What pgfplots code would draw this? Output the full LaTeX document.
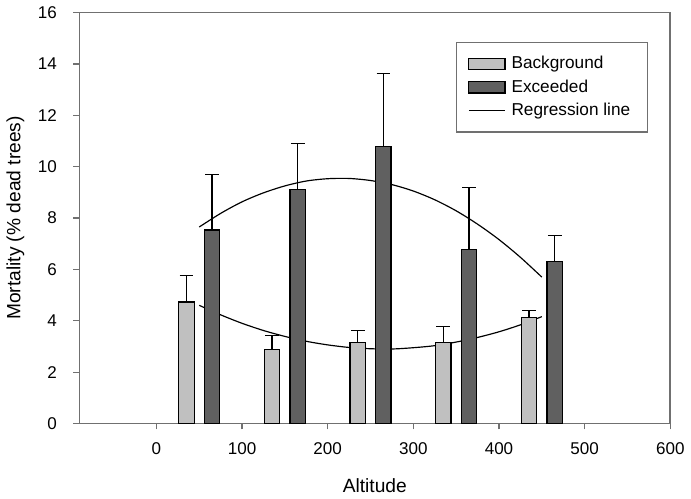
\documentclass[border=0pt]{standalone}
\usepackage{fontspec}
\setmainfont{Liberation Sans}
\usepackage{pgfplots}
\pgfplotsset{compat=1.18}

\definecolor{bgbar}{HTML}{C0C0C0}
\definecolor{exbar}{HTML}{606060}
\definecolor{axgray}{HTML}{707070}

\begin{document}
\begin{tikzpicture}
\begin{axis}[
    scale only axis,
    width=302pt, height=210pt,
    xmin=-90, xmax=600,
    ymin=0, ymax=16,
    xtick={0,100,...,600},
    ytick={0,2,...,16},
    tick align=outside,
    xtick pos=left, ytick pos=left,
    major tick length=3pt,
    tick style={axgray, line width=0.6pt},
    axis line style={axgray, line width=0.8pt},
    ticklabel style={font=\fontsize{8.7}{10}\selectfont},
    xticklabel style={yshift=-3.5pt},
    yticklabel style={xshift=-5pt},
    /pgf/number format/assume math mode=true,
    xlabel={Altitude},
    ylabel={Mortality (\% dead trees)},
    label style={font=\fontsize{9.8}{12}\selectfont},
    xlabel style={yshift=-5pt},
    legend style={at={(0.963,0.928)}, anchor=north east,
        font=\fontsize{8.8}{10.25}\selectfont, draw=axgray, line width=0.6pt,
        inner xsep=6pt, inner ysep=5pt, row sep=0pt,
        nodes={inner xsep=3pt}},
    legend cell align=left,
]
% regression lines (behind the bars)
\addplot[black, line width=0.6pt, smooth, forget plot] coordinates {
    (50,7.65) (75,8.18) (100,8.63) (125,8.98) (150,9.25) (175,9.44)
    (200,9.53) (225,9.54) (250,9.46) (275,9.30) (300,9.05) (325,8.71)
    (350,8.28) (375,7.76) (400,7.16) (425,6.47) (450,5.70)
};
\addplot[black, line width=0.6pt, smooth, forget plot] coordinates {
    (50,4.60) (75,4.23) (100,3.90) (125,3.62) (150,3.39) (175,3.20)
    (200,3.06) (225,2.96) (250,2.91) (275,2.90) (300,2.95) (325,3.03)
    (350,3.17) (375,3.35) (400,3.57) (425,3.84) (450,4.16)
};
% Background
\addplot[ybar, bar width=18, bar shift=0pt, fill=bgbar, draw=black, line width=0.6pt, forget plot,
    error bars/.cd, y dir=plus, y explicit,
    error bar style={black, line width=0.6pt},
    error mark options={rotate=90, mark size=3.5pt, black, line width=0.6pt}]
  coordinates {
    (35,4.73) +- (0,1.03)
    (135,2.88) +- (0,0.54)
    (235,3.16) +- (0,0.45)
    (335,3.16) +- (0,0.63)
    (435,4.12) +- (0,0.28)
};
% Exceeded
\addplot[ybar, bar width=18, bar shift=0pt, fill=exbar, draw=black, line width=0.6pt, forget plot,
    error bars/.cd, y dir=plus, y explicit,
    error bar style={black, line width=0.6pt},
    error mark options={rotate=90, mark size=3.5pt, black, line width=0.6pt}]
  coordinates {
    (65,7.53) +- (0,2.15)
    (165,9.10) +- (0,1.80)
    (265,10.77) +- (0,2.86)
    (365,6.76) +- (0,2.44)
    (465,6.32) +- (0,1.00)
};
\addlegendimage{legend image code/.code={\draw[fill=bgbar, draw=black, line width=0.6pt] (0cm,-0.1cm) rectangle (0.65cm,0.1cm);}}
\addlegendentry{Background}
\addlegendimage{legend image code/.code={\draw[fill=exbar, draw=black, line width=0.6pt] (0cm,-0.1cm) rectangle (0.65cm,0.1cm);}}
\addlegendentry{Exceeded}
\addlegendimage{legend image code/.code={\draw[black, line width=0.6pt] (0cm,0cm) -- (0.65cm,0cm);}}
\addlegendentry{Regression line}
\end{axis}
\end{tikzpicture}
\end{document}
